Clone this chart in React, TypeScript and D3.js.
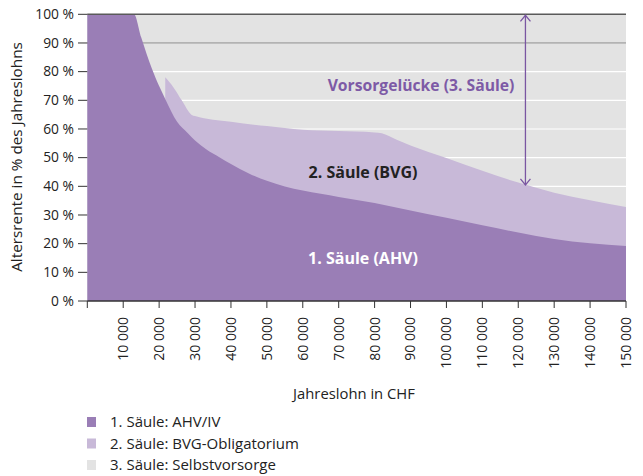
import React from "react";
import * as d3 from "d3";

const ahvSalaries = [0, 10000, 13000, 15000, 18000, 20000, 21700, 25000, 28000, 30000, 33000, 37000, 40000, 45000, 50000, 55000, 60000, 70000, 80000, 90000, 100000, 110000, 120000, 130000, 140000, 150000];
const ahvValues = [100, 100, 100, 92, 81, 75, 70.5, 62.5, 58.5, 56, 53, 50, 47.8, 44.5, 41.9, 39.9, 38.5, 36.3, 34.2, 31.6, 29, 26.4, 23.9, 21.6, 20.1, 19.2];

const bvgSalaries = [21700, 24000, 26300, 29000, 30000, 40000, 50000, 60000, 70000, 80000, 82000, 86000, 90000, 95000, 100000, 110000, 120000, 130000, 140000, 150000];
const bvgTopValues = [78, 74.5, 70, 65, 64.5, 62.5, 61, 59.7, 59.3, 58.8, 58.5, 56.3, 54.2, 52, 49.9, 45.4, 41.3, 37.8, 35.1, 32.8];

const xTicks = [0, 10000, 20000, 30000, 40000, 50000, 60000, 70000, 80000, 90000, 100000, 110000, 120000, 130000, 140000, 150000];
const yTicks = [0, 10, 20, 30, 40, 50, 60, 70, 80, 90, 100];

const legendLabels = ["1. Säule: AHV/IV", "2. Säule: BVG-Obligatorium", "3. Säule: Selbstvorsorge"];
const gapArrowSalary = 122000;
const gapArrowBottom = 40.5;

const C_AHV = "#9a7eb6";
const C_BVG = "#c8b9d8";
const C_BG = "#e3e3e3";
const C_ARROW = "#7a56a2";
const FONT = "'Open Sans', sans-serif";

export default function App() {
  const W = 643, H = 476;
  const x = d3.scaleLinear().domain([0, 150000]).range([87.3, 626]);
  const y = d3.scaleLinear().domain([0, 100]).range([301, 14.3]);

  const ahvArea = d3.area<number>()
    .x((_, i) => x(ahvSalaries[i]))
    .y0(y(0))
    .y1((d) => y(d))
    .curve(d3.curveMonotoneX)(ahvValues) as string;

  const bvgArea = d3.area<number>()
    .x((_, i) => x(bvgSalaries[i]))
    .y0(y(0))
    .y1((d) => y(d))
    .curve(d3.curveMonotoneX)(bvgTopValues) as string;

  const ax = x(gapArrowSalary);
  const aTop = y(100) + 1;
  const aBot = y(gapArrowBottom);

  return (
    <svg width={W} height={H} style={{ position: "absolute", left: 0, top: 0 }} fontFamily={FONT}>
      <rect x={x(0)} y={y(100)} width={x(150000) - x(0)} height={y(0) - y(100)} fill={C_BG} />
      {yTicks.filter((t) => t > 0 && t < 90).map((t) => (
        <line key={t} x1={x(0)} x2={x(150000)} y1={y(t)} y2={y(t)} stroke="#ffffff" strokeWidth={1.2} />
      ))}
      <line x1={x(0)} x2={x(150000)} y1={y(90)} y2={y(90)} stroke="#b3b3b3" strokeWidth={1.8} />
      <path d={bvgArea} fill={C_BVG} />
      <path d={ahvArea} fill={C_AHV} />
      <line x1={x(0)} x2={x(150000)} y1={y(100)} y2={y(100)} stroke="#5a5a5a" strokeWidth={1.5} />
      <line x1={x(0)} x2={x(150000)} y1={y(0)} y2={y(0)} stroke="#333" strokeWidth={1.3} />

      {yTicks.map((t) => (
        <g key={t}>
          <line x1={78} x2={x(0)} y1={y(t)} y2={y(t)} stroke="#333" strokeWidth={1} />
          <text x={74} y={y(t)} dy="0.35em" textAnchor="end" fontSize={13.8} fill="#222">{t} %</text>
        </g>
      ))}
      {xTicks.map((t) => (
        <g key={t}>
          <line x1={x(t)} x2={x(t)} y1={y(0)} y2={y(0) + 7} stroke="#333" strokeWidth={1} />
          {t > 0 && (
            <text transform={`translate(${x(t)},317) rotate(-90)`} dy="0.35em" textAnchor="end" fontSize={14} fill="#222">
              {d3.format(",")(t).replace(/,/g, " ")}
            </text>
          )}
        </g>
      ))}

      <text transform={`translate(17,157) rotate(-90)`} dy="0.35em" textAnchor="middle" fontSize={15.3} fill="#222">Altersrente in % des Jahreslohns</text>
      <text x={354} y={394} dy="0.35em" textAnchor="middle" fontSize={14.8} fill="#222">Jahreslohn in CHF</text>

      <line x1={ax} x2={ax} y1={aTop} y2={aBot} stroke={C_ARROW} strokeWidth={1.3} />
      <path d={`M${ax - 5},${aTop + 6} L${ax},${aTop} L${ax + 5},${aTop + 6}`} fill="none" stroke={C_ARROW} strokeWidth={1.3} />
      <path d={`M${ax - 5},${aBot - 6} L${ax},${aBot} L${ax + 5},${aBot - 6}`} fill="none" stroke={C_ARROW} strokeWidth={1.3} />

      <text x={421} y={86} dy="0.35em" textAnchor="middle" fontSize={15.7} fontWeight="bold" fill="#7d5aa6">Vorsorgelücke (3. Säule)</text>
      <text x={363} y={172} dy="0.35em" textAnchor="middle" fontSize={16} fontWeight="bold" fill="#222">2. Säule (BVG)</text>
      <text x={363} y={258} dy="0.35em" textAnchor="middle" fontSize={16} fontWeight="bold" fill="#ffffff">1. Säule (AHV)</text>

      {legendLabels.map((l, i) => (
        <g key={l} transform={`translate(87,${422 + i * 21.5})`}>
          <rect x={0} y={-5} width={9} height={10} fill={[C_AHV, C_BVG, C_BG][i]} />
          <text x={23} y={0} dy="0.35em" fontSize={15} fill="#222">{l}</text>
        </g>
      ))}
    </svg>
  );
}
